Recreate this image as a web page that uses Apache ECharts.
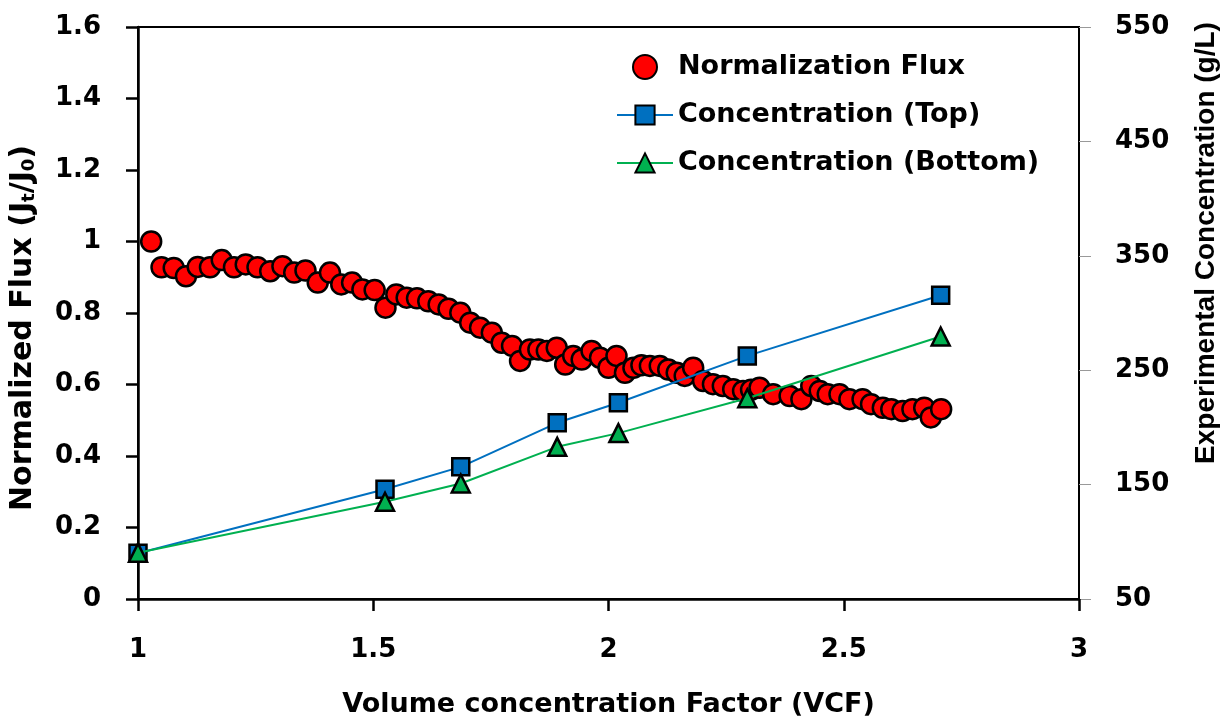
<!DOCTYPE html>
<html>
<head>
<meta charset="utf-8">
<title>Normalized flux vs VCF</title>
<script src="https://cdn.jsdelivr.net/npm/echarts@6/dist/echarts.min.js"></script>
<style>
  html, body { margin: 0; padding: 0; background: #fff; }
  #chart { width: 1231px; height: 718px; }
</style>
</head>
<body>
<div id="chart"></div>
<script>
// 正規化フラックス（左軸）
const fluxVCF = [
  1.028, 1.050, 1.076, 1.102, 1.127, 1.153, 1.178, 1.204, 1.229, 1.254,
  1.281, 1.307, 1.332, 1.356, 1.382, 1.408, 1.432, 1.455, 1.477, 1.503,
  1.526, 1.549, 1.571, 1.593, 1.617, 1.639, 1.660, 1.685, 1.706, 1.727,
  1.752, 1.773, 1.795, 1.812, 1.833, 1.851, 1.869, 1.890, 1.908, 1.925,
  1.943, 1.964, 1.982, 2.000, 2.017, 2.035, 2.053, 2.070, 2.088, 2.109,
  2.127, 2.145, 2.162, 2.180, 2.201, 2.222, 2.243, 2.265, 2.286, 2.303,
  2.321, 2.350, 2.385, 2.410, 2.431, 2.449, 2.466, 2.491, 2.512, 2.540,
  2.558, 2.583, 2.601, 2.625, 2.646, 2.671, 2.685, 2.707,
];
const fluxValues = [
  1.000, 0.928, 0.926, 0.903, 0.929, 0.928, 0.948, 0.928, 0.936, 0.928,
  0.917, 0.931, 0.913, 0.919, 0.885, 0.913, 0.880, 0.885, 0.866, 0.864,
  0.815, 0.852, 0.843, 0.841, 0.833, 0.824, 0.812, 0.801, 0.773, 0.759,
  0.745, 0.717, 0.708, 0.666, 0.698, 0.698, 0.694, 0.703, 0.656, 0.680,
  0.670, 0.694, 0.675, 0.647, 0.680, 0.633, 0.647, 0.654, 0.652, 0.652,
  0.642, 0.633, 0.624, 0.647, 0.610, 0.601, 0.596, 0.587, 0.582, 0.585,
  0.591, 0.573, 0.568, 0.559, 0.596, 0.582, 0.573, 0.573, 0.559, 0.559,
  0.545, 0.535, 0.531, 0.526, 0.531, 0.535, 0.508, 0.531,
];

// 実測濃度（右軸, g/L）
const concVCF = [1.0, 1.525, 1.686, 1.891, 2.021, 2.295, 2.706];
const concTop = [90, 146, 165.5, 204, 221.5, 262.5, 315.5];
const concBottom = [90.5, 135, 151, 183, 195, 225.5, 279.5];

const TICK_FONT = { fontFamily: 'DejaVu Sans', fontWeight: 'bold', fontSize: 26, color: '#000' };
const AXIS_LINE = { lineStyle: { color: '#000', width: 2.5 } };
const pairs = (xs, ys) => xs.map((x, i) => [x, ys[i]]);

const chart = echarts.init(document.getElementById('chart'), null, { renderer: 'canvas' });
chart.setOption({
  animation: false,
  backgroundColor: '#fff',
  grid: {
    left: 138, right: 152, top: 27, bottom: 119,
    outerBoundsMode: 'none',
    show: true, borderColor: '#000', borderWidth: 2, backgroundColor: 'transparent',
  },
  legend: {
    orient: 'vertical',
    left: 611,
    top: 47,
    itemWidth: 56,
    itemHeight: 24,
    itemGap: 18,
    textStyle: { fontFamily: 'DejaVu Sans', fontWeight: 'bold', fontSize: 27, color: '#000', lineHeight: 30 },
    data: ['Normalization Flux', 'Concentration (Top)', 'Concentration (Bottom)'],
  },
  xAxis: {
    type: 'value',
    min: 1,
    max: 3,
    interval: 0.5,
    name: 'Volume concentration Factor (VCF)',
    nameLocation: 'middle',
    nameGap: 92,
    nameTextStyle: { fontFamily: 'DejaVu Sans', fontWeight: 'bold', fontSize: 27, color: '#000' },
    axisLine: AXIS_LINE,
    axisTick: { length: 12, lineStyle: { color: '#000', width: 2.5 } },
    axisLabel: { ...TICK_FONT, margin: 38 },
    splitLine: { show: false },
  },
  yAxis: [
    {
      type: 'value',
      min: 0,
      max: 1.6,
      interval: 0.2,
      position: 'left',
      name: '{n|Normalized Flux (J}{s|t}{n|/J}{s|0}{n|)}',
      nameLocation: 'middle',
      nameRotate: 90,
      nameGap: 100,
      nameTextStyle: {
        padding: [0, 30, 0, 0],
        rich: {
          n: { fontFamily: 'DejaVu Sans', fontWeight: 'bold', fontSize: 30, color: '#000', lineHeight: 34, verticalAlign: 'bottom' },
          s: { fontFamily: 'DejaVu Sans', fontWeight: 'bold', fontSize: 18, color: '#000', lineHeight: 16, verticalAlign: 'bottom' },
        },
      },
      axisLine: { show: true, ...AXIS_LINE },
      axisTick: { length: 12, lineStyle: { color: '#000', width: 2.5 } },
      axisLabel: { ...TICK_FONT, margin: 37 },
      splitLine: { show: false },
    },
    {
      type: 'value',
      min: 50,
      max: 550,
      interval: 100,
      position: 'right',
      name: 'Experimental Concentration (g/L)',
      nameLocation: 'middle',
      nameRotate: 90,
      nameGap: 113,
      nameTextStyle: {
        fontFamily: 'Liberation Sans', fontWeight: 'bold', fontSize: 28, color: '#000',
        padding: [0, 0, 0, 140],
      },
      axisLine: { show: true, lineStyle: { color: '#000', width: 2 } },
      axisTick: { length: 12, lineStyle: { color: '#999', width: 1 } },
      axisLabel: { ...TICK_FONT, margin: 36 },
      splitLine: { show: false },
    },
  ],
  series: [
    {
      name: 'Normalization Flux',
      type: 'scatter',
      yAxisIndex: 0,
      data: pairs(fluxVCF, fluxValues),
      symbol: 'circle',
      symbolSize: 20,
      itemStyle: { color: '#ff0000', borderColor: '#000', borderWidth: 2.5, opacity: 1 },
      z: 2,
    },
    {
      name: 'Concentration (Top)',
      type: 'line',
      yAxisIndex: 1,
      data: pairs(concVCF, concTop),
      symbol: 'rect',
      symbolSize: 17,
      lineStyle: { color: '#0070c0', width: 2 },
      itemStyle: { color: '#0070c0', borderColor: '#000', borderWidth: 2.5 },
      z: 3,
    },
    {
      name: 'Concentration (Bottom)',
      type: 'line',
      yAxisIndex: 1,
      data: pairs(concVCF, concBottom),
      symbol: 'triangle',
      symbolSize: 18,
      lineStyle: { color: '#00b050', width: 2 },
      itemStyle: { color: '#00b050', borderColor: '#000', borderWidth: 2.5 },
      z: 4,
    },
  ],
});
</script>
</body>
</html>
